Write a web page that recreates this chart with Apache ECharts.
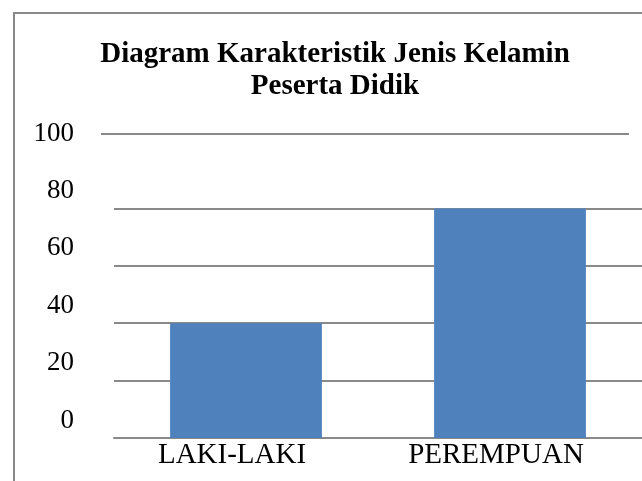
<!DOCTYPE html>
<html>
<head>
<meta charset="utf-8">
<script src="https://cdn.jsdelivr.net/npm/echarts@6/dist/echarts.min.js"></script>
<style>
  html, body { margin: 0; padding: 0; background: #fff; }
  #chart { width: 642px; height: 481px; }
</style>
</head>
<body>
<div id="chart"></div>
<script>
const titleLines = ['Diagram Karakteristik Jenis Kelamin', 'Peserta Didik'];
const categories = ['LAKI-LAKI', 'PEREMPUAN'];
const values = [40, 80];
const yTicks = [0, 20, 40, 60, 80, 100];

const chart = echarts.init(document.getElementById('chart'), null, { renderer: 'canvas' });
const FONT = '"Liberation Serif", "Times New Roman", serif';
const GRIDC = '#898989';

chart.setOption({
  backgroundColor: '#fff',
  animation: false,
  title: {
    text: titleLines.join('\n'),
    left: 335,
    top: 39,
    padding: 0,
    textAlign: 'center',
    textStyle: {
      fontFamily: FONT,
      fontWeight: 'bold',
      fontSize: 29,
      lineHeight: 32,
      color: '#000',
      align: 'center'
    }
  },
  graphic: [
    {
      type: 'rect',
      shape: { x: 14, y: 13, width: 700, height: 600 },
      style: { fill: 'none', stroke: GRIDC, lineWidth: 2 },
      silent: true
    },
    {
      type: 'line',
      shape: { x1: 101, y1: 134, x2: 629, y2: 134 },
      style: { stroke: GRIDC, lineWidth: 2 },
      silent: true
    }
  ],
  grid: { left: 114, right: 0, top: 151, bottom: 43, containLabel: false },
  xAxis: {
    type: 'category',
    data: categories,
    axisTick: { show: false },
    axisLine: { show: true, lineStyle: { color: GRIDC, width: 2 } },
    axisLabel: {
      fontFamily: FONT, fontSize: 29, color: '#000', margin: 3,
      lineHeight: 29, padding: [0, 28, 0, 0]
    }
  },
  yAxis: {
    type: 'value',
    min: yTicks[0],
    max: yTicks[yTicks.length - 1],
    interval: yTicks[1] - yTicks[0],
    axisLine: { show: false },
    axisTick: { show: false },
    splitLine: { show: true, lineStyle: { color: [GRIDC, GRIDC, GRIDC, GRIDC, GRIDC, 'rgba(0,0,0,0)'], width: 2 } },
    axisLabel: {
      fontFamily: FONT, fontSize: 27, color: '#000', margin: 40,
      verticalAlign: 'bottom', lineHeight: 27, padding: [0, 0, 4, 0]
    }
  },
  series: [{
    type: 'bar',
    data: values,
    barWidth: '57.5%',
    itemStyle: { color: '#4F81BD' }
  }]
});
</script>
</body>
</html>
